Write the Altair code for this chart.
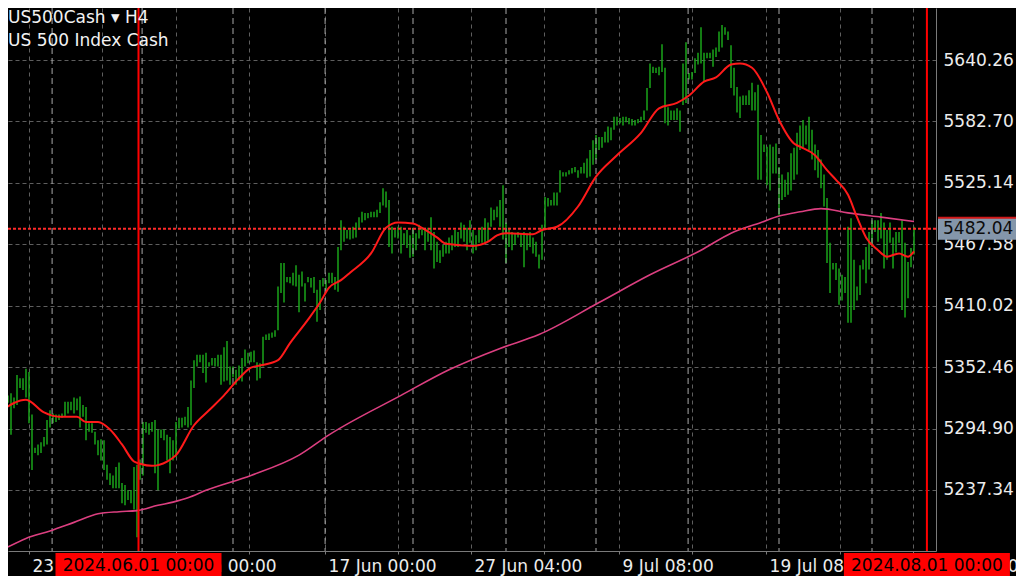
import altair as alt
import pandas as pd

# ---------------- data ----------------
symbol_line = "US500Cash \u25be H4"
desc_line = "US 500 Index Cash"

highs = [
    5329, 5323, 5326, 5328, 5324, 5345, 5342, 5342, 5351, 5348,
    5308, 5277, 5280, 5282, 5287, 5303, 5312, 5309, 5308, 5308,
    5309, 5320, 5320, 5320, 5324, 5323, 5325, 5317, 5315, 5300,
    5300, 5292, 5284, 5285, 5284, 5261, 5253, 5251, 5259, 5263,
    5244, 5242, 5237, 5237, 5259, 5261, 5266, 5301, 5301, 5300,
    5301, 5303, 5294, 5294, 5294, 5289, 5287, 5284, 5301, 5305,
    5305, 5306, 5315, 5340, 5359,
    5364, 5364, 5364, 5366, 5357, 5361, 5361, 5364, 5364, 5371,
    5377, 5353, 5353, 5350, 5354, 5361, 5369, 5366, 5367, 5368,
    5357, 5356, 5381, 5383, 5384, 5385, 5387, 5428, 5450, 5450,
    5437, 5437, 5441, 5448, 5439, 5442, 5431, 5437, 5436, 5437,
    5425, 5434, 5436, 5434, 5441, 5441, 5437, 5465,
    5490, 5484, 5481, 5481, 5484, 5488, 5493, 5498, 5497, 5497,
    5498, 5498, 5500, 5507, 5520, 5517, 5509, 5484, 5481, 5484,
    5484, 5478, 5481, 5476, 5483, 5478, 5486, 5483, 5483, 5483,
    5493, 5479, 5470, 5462, 5467, 5470, 5474, 5476, 5481, 5479,
    5488, 5486, 5483, 5490, 5481, 5476, 5481, 5484, 5492, 5488,
    5502, 5500, 5503, 5509, 5523, 5488, 5483, 5479, 5478, 5479,
    5478, 5479, 5478, 5479, 5474, 5470, 5458, 5486, 5512, 5511,
    5509, 5516, 5516, 5537, 5535, 5535, 5537, 5539, 5540, 5537,
    5540, 5544, 5548, 5556,
    5565, 5570, 5568, 5568, 5573, 5578, 5577, 5587, 5587, 5586,
    5587, 5587, 5586, 5585, 5584, 5585, 5587, 5593, 5614, 5637,
    5634, 5633, 5634, 5655, 5633, 5596, 5593, 5593, 5595, 5593,
    5637, 5657, 5628, 5629, 5642, 5647, 5671, 5647, 5647, 5647,
    5650, 5652, 5667, 5673, 5671, 5667, 5654, 5633, 5615, 5606,
    5607, 5607, 5612, 5619, 5610, 5617, 5570, 5561, 5559, 5561,
    5559, 5562, 5540, 5533, 5528, 5535, 5553, 5558, 5572,
    5579, 5584, 5579, 5587, 5575, 5561, 5556, 5547, 5533, 5511,
    5469, 5450, 5450, 5445, 5439, 5437, 5484, 5492, 5453, 5428,
    5448, 5453, 5465, 5479, 5490, 5490, 5490, 5497, 5488, 5481,
    5488, 5474, 5479, 5479, 5490, 5469, 5451, 5464, 5484,
]
lows = [
    5320, 5317, 5319, 5289, 5314, 5317, 5333, 5331, 5324, 5300,
    5256, 5272, 5270, 5272, 5278, 5280, 5296, 5300, 5301, 5303,
    5305, 5306, 5309, 5312, 5309, 5312, 5296, 5306, 5284, 5292,
    5291, 5280, 5270, 5265, 5256, 5247, 5242, 5239, 5239, 5239,
    5225, 5223, 5228, 5225, 5219, 5193, 5247, 5251, 5291, 5289,
    5292, 5253, 5237, 5286, 5284, 5265, 5253, 5265, 5268, 5295,
    5296, 5298, 5296, 5298, 5333,
    5353, 5357, 5347, 5338, 5353, 5354, 5353, 5353, 5336, 5339,
    5340, 5336, 5343, 5336, 5340, 5339, 5353, 5356, 5357, 5357,
    5340, 5342, 5353, 5378, 5378, 5380, 5381, 5387, 5422, 5413,
    5432, 5431, 5429, 5428, 5404, 5428, 5414, 5432, 5427, 5422,
    5395, 5406, 5428, 5425, 5431, 5431, 5425, 5423,
    5462, 5470, 5473, 5472, 5473, 5474, 5481, 5488, 5490, 5492,
    5493, 5493, 5493, 5497, 5504, 5502, 5465, 5459, 5474, 5473,
    5459, 5467, 5464, 5455, 5456, 5462, 5473, 5476, 5462, 5470,
    5462, 5445, 5451, 5450, 5456, 5459, 5459, 5462, 5465, 5465,
    5473, 5470, 5462, 5469, 5459, 5462, 5469, 5469, 5469, 5470,
    5484, 5490, 5493, 5484, 5472, 5450, 5465, 5462, 5467, 5474,
    5465, 5446, 5462, 5465, 5459, 5456, 5445, 5453, 5483, 5503,
    5504, 5504, 5504, 5516, 5531, 5531, 5533, 5534, 5535, 5530,
    5534, 5534, 5530, 5531,
    5542, 5547, 5556, 5558, 5563, 5563, 5565, 5575, 5579, 5581,
    5579, 5582, 5580, 5579, 5579, 5581, 5582, 5584, 5593, 5614,
    5628, 5628, 5626, 5629, 5581, 5579, 5584, 5584, 5584, 5573,
    5598, 5600, 5622, 5622, 5628, 5636, 5637, 5620, 5642, 5642,
    5634, 5643, 5648, 5652, 5664, 5659, 5614, 5607, 5591, 5586,
    5598, 5598, 5598, 5593, 5593, 5528, 5528, 5554, 5523, 5518,
    5534, 5534, 5495, 5509, 5512, 5514, 5518, 5528, 5533,
    5556, 5558, 5561, 5556, 5547, 5537, 5530, 5520, 5503, 5450,
    5422, 5444, 5434, 5411, 5415, 5422, 5394, 5394, 5406, 5415,
    5420, 5444, 5431, 5444, 5465, 5479, 5470, 5473, 5445, 5453,
    5469, 5445, 5460, 5469, 5406, 5399, 5417, 5446, 5458,
]

red_ma_idx = [0, 8, 14, 19, 25, 28, 32, 36, 40, 44, 46, 50, 55, 58, 64, 69, 74, 79, 83, 86,
              92, 96, 102, 106, 109, 113, 116, 123, 128, 132, 137, 140, 145, 148, 157, 162,
              165, 168, 177, 180, 185, 192, 198, 205, 213, 219, 225, 229, 234, 238, 243, 246,
              250, 255, 259, 264, 266, 271, 275, 278, 282, 285, 288, 292, 295, 299, 302, 304]
red_ma_val = [5312, 5322, 5310, 5306, 5306, 5301, 5301, 5294, 5280, 5264, 5262, 5260, 5264,
              5270, 5298, 5312, 5326, 5342, 5352, 5354, 5359, 5375, 5397, 5413, 5427, 5434,
              5441, 5459, 5483, 5488, 5487, 5483, 5474, 5468, 5466, 5470, 5476, 5478, 5477,
              5481, 5484, 5503, 5531, 5551, 5572, 5595, 5600, 5607, 5620, 5624, 5636, 5637,
              5633, 5610, 5584, 5562, 5559, 5551, 5537, 5528, 5514, 5493, 5474, 5462, 5456,
              5459, 5456, 5461]

pink_ma_idx = [0, 8, 16, 24, 32, 39, 45, 52, 57, 62, 68, 83, 99, 109, 133, 149, 166, 179,
               199, 216, 233, 243, 253, 259, 266, 273, 282, 293, 304]
pink_ma_val = [5181, 5192, 5199, 5207, 5215, 5217, 5218, 5223, 5226, 5230, 5237, 5251, 5270,
               5289, 5326, 5350, 5370, 5383, 5413, 5439, 5462, 5478, 5488, 5494, 5498, 5501,
               5497, 5493, 5489]

y_ticks = [5237.34, 5294.90, 5352.46, 5410.02, 5467.58, 5525.14, 5582.70, 5640.26]
grid_idx = [9, 33.3, 58, 82.3, 107.7, 132, 156.3, 180.7, 205.7, 230, 254.7, 279.3, 303.7]
label_idx = [9, 58, 107.7, 156.3, 205.7, 254.7, 303.7]
label_text = ["23 May 2024", "6 Jun 00:00", "17 Jun 00:00", "27 Jun 04:00",
              "9 Jul 08:00", "19 Jul 08:00", "31 Jul 12:00"]
week_idx = [16.7, 46.7, 77, 107.7, 137, 168, 198, 228.7, 259, 290]
vline_idx = [45.5, 308.3]
vline_text = ["2024.06.01 00:00", "2024.08.01 00:00"]
last_price = [5482.04]

# ---------------- chart ----------------
W, H = 928, 543
FONT = "DejaVu Sans"
xs = alt.Scale(domain=[2, 311.33], nice=False, zero=False, padding=0)
ys = alt.Scale(domain=[5180.18, 5688.99], nice=False, zero=False, padding=0)

bars_df = pd.DataFrame({"idx": list(range(len(highs))), "high": highs, "low": lows})
red_df = pd.DataFrame({"idx": red_ma_idx, "v": red_ma_val})
pink_df = pd.DataFrame({"idx": pink_ma_idx, "v": pink_ma_val})
week_df = pd.DataFrame({"idx": week_idx})
vl_df = pd.DataFrame({"idx": vline_idx, "t": vline_text})
px_df = pd.DataFrame({"p": last_price, "t": [f"{v:.2f}" for v in last_price]})
title_df = pd.DataFrame({"t": [symbol_line]})
desc_df = pd.DataFrame({"t": [desc_line]})

label_expr = " : ".join(f"datum.value == {v} ? '{t}'" for v, t in zip(label_idx, label_text)) + " : ''"

x_axis = alt.Axis(values=grid_idx, labelExpr=label_expr, grid=True, gridColor="#5e5e5e",
                  gridDash=[4, 4], gridWidth=1, domainColor="#7a7a7a", tickColor="#7a7a7a",
                  tickSize=3, labelAlign="left", labelBaseline="alphabetic", labelPadding=17,
                  labelOffset=3, labelFont=FONT, labelFontSize=17, labelColor="#ececec",
                  labelOverlap=False, labelFlush=False, labelBound=False, title=None)
y_axis = alt.Axis(orient="right", values=y_ticks, format=".2f", grid=True, gridColor="#5e5e5e",
                  gridDash=[4, 3], gridWidth=1, ticks=False, domainColor="#7a7a7a",
                  labelPadding=7, labelFont=FONT, labelFontSize=17, labelColor="#ececec",
                  labelOverlap=False, labelFlush=False, labelBound=False, title=None)


def X(field="idx:Q"):
    return alt.X(field, scale=xs, axis=x_axis)


def Y(field):
    return alt.Y(field, scale=ys, axis=y_axis)


bars = alt.Chart(bars_df).mark_rule(color="#1aa51a", strokeWidth=1.5, clip=True).encode(
    x=X(), y=Y("high:Q"), y2="low:Q",
)

weeks = alt.Chart(week_df).mark_rule(color="#a8a8a8", strokeDash=[6, 4], strokeWidth=1, clip=True).encode(
    x=X()
)

pink = alt.Chart(pink_df).mark_line(color="#dc3f80", strokeWidth=1.6, interpolate="monotone", clip=True).encode(
    x=X(), y=Y("v:Q")
)
red = alt.Chart(red_df).mark_line(color="#ff1a1a", strokeWidth=2, interpolate="monotone", clip=True).encode(
    x=X(), y=Y("v:Q")
)

bid = alt.Chart(px_df).mark_rule(color="#ff2a2a", strokeWidth=2, strokeDash=[3, 2], clip=True).encode(
    y=Y("p:Q")
)

vlines = alt.Chart(vl_df).mark_rule(color="#ff0000", strokeWidth=2, clip=True).encode(
    x=X()
)

title1 = alt.Chart(title_df).mark_text(align="left", baseline="alphabetic", font=FONT, fontSize=17,
                                       color="#f2f2f2").encode(x=alt.value(0), y=alt.value(15), text="t:N")
title2 = alt.Chart(desc_df).mark_text(align="left", baseline="alphabetic", font=FONT, fontSize=17,
                                      color="#f2f2f2").encode(x=alt.value(0), y=alt.value(38), text="t:N")

vboxes = alt.Chart(vl_df).mark_bar(color="#ff0000", width=166, clip=False).encode(
    x=X(), y=alt.value(545), y2=alt.value(570)
)
vtexts = alt.Chart(vl_df).mark_text(align="center", baseline="alphabetic", font=FONT, fontSize=17,
                                    color="#000000", clip=False).encode(
    x=X(), y=alt.value(563), text="t:N"
)

pbox = alt.Chart(px_df).mark_bar(color="#8496aa", height=22, orient="horizontal", clip=False).encode(
    y=Y("p:Q"), x=alt.value(930), x2=alt.value(1016)
)
pedge = alt.Chart(px_df).mark_bar(color="#d01818", height=2, orient="horizontal", clip=False, yOffset=-11).encode(
    y=Y("p:Q"), x=alt.value(930), x2=alt.value(1016)
)
ptext = alt.Chart(px_df).mark_text(align="left", baseline="middle", font=FONT, fontSize=17,
                                   color="#0c0c0c", clip=False).encode(
    y=Y("p:Q"), x=alt.value(935), text="t:N"
)

chart = alt.layer(bars, weeks, pink, red, bid, vlines, title1, title2, vboxes, vtexts,
                  pbox, pedge, ptext).properties(
    width=W, height=H, background="#000000",
    padding={"left": 0, "top": 0, "right": 80, "bottom": 25},
    autosize=alt.AutoSizeParams(type="none"),
).configure_view(stroke=None)

chart.save("out.html", embed_options={"renderer": "svg", "actions": False})
